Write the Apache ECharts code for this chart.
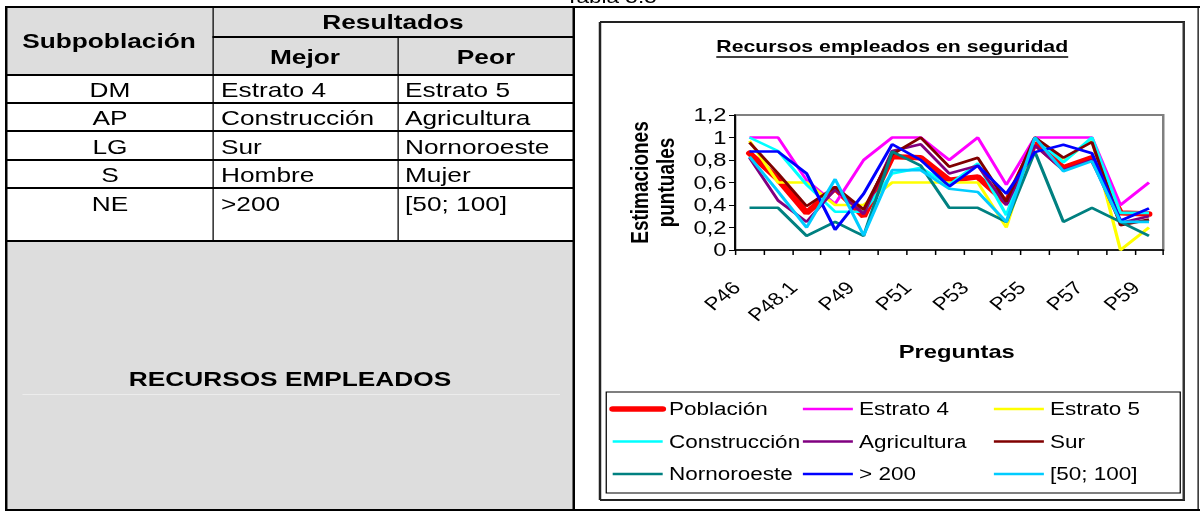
<!DOCTYPE html>
<html><head><meta charset="utf-8">
<script src="https://cdn.jsdelivr.net/npm/echarts@6/dist/echarts.min.js"></script>
<style>
html,body{margin:0;padding:0;background:#fff;overflow:hidden;width:1201px;height:513px;}
#page{position:absolute;left:0;top:0;height:513px;transform-origin:0 0;font-family:"Liberation Sans",Arial,sans-serif;color:#000;}
.a{position:absolute;}
.t{position:absolute;white-space:nowrap;line-height:1;}
</style></head><body>
<div id="page"></div>
<script>
// ---------- data ----------
const categories = ['P46','P47','P48.1','P48.2','P49','P50','P51','P52','P53','P54','P55','P56','P57','P58','P59'];
const seriesNames = ['Población','Estrato 4','Estrato 5','Construcción','Agricultura','Sur','Nornoroeste','> 200','[50; 100]'];
const poblacion    = [0.86, 0.63, 0.33, 0.55, 0.30, 0.83, 0.82, 0.62, 0.65, 0.42, 0.95, 0.73, 0.82, 0.33, 0.32];
const estrato4     = [1.00, 1.00, 0.62, 0.41, 0.80, 1.00, 1.00, 0.80, 1.00, 0.58, 1.00, 1.00, 1.00, 0.40, 0.60];
const estrato5     = [0.97, 0.60, 0.60, 0.40, 0.40, 0.60, 0.60, 0.60, 0.60, 0.20, 1.00, 0.79, 0.98, 0.00, 0.20];
const construccion = [1.00, 0.88, 0.58, 0.34, 0.34, 0.68, 0.73, 0.58, 0.77, 0.31, 1.00, 0.78, 1.00, 0.33, 0.33];
const agricultura  = [0.82, 0.44, 0.25, 0.54, 0.32, 0.88, 0.94, 0.68, 0.75, 0.40, 0.93, 0.71, 0.80, 0.24, 0.30];
const sur          = [0.955,0.68, 0.39, 0.56, 0.36, 0.85, 1.00, 0.74, 0.82, 0.43, 1.00, 0.82, 0.96, 0.22, 0.27];
const nornoroeste  = [0.375,0.375,0.125,0.25, 0.125,0.875,0.75, 0.375,0.375,0.25, 0.875,0.25, 0.375,0.25, 0.125];
const mas200       = [0.875,0.875,0.68, 0.18, 0.50, 0.94, 0.80, 0.565,0.75, 0.50, 0.87, 0.935,0.86, 0.26, 0.37];
const r50a100      = [0.83, 0.52, 0.20, 0.63, 0.13, 0.71, 0.71, 0.545,0.515,0.25, 1.00, 0.70, 0.79, 0.25, 0.25];
const seriesColors = ['#FF0000','#FF00FF','#FFFF00','#00FFFF','#800080','#800000','#008080','#0000FF','#00CCFF'];
const seriesValues = [poblacion, estrato4, estrato5, construccion, agricultura, sur, nornoroeste, mas200, r50a100];
const tableHeader = ['Subpoblación','Resultados','Mejor','Peor'];
const tableSub  = ['DM','AP','LG','S','NE'];
const tableBest = ['Estrato 4','Construcción','Sur','Hombre','>200'];
const tableWorst= ['Estrato 5','Agricultura','Nornoroeste','Mujer','[50; 100]'];
const chartTitle = 'Recursos empleados en seguridad';
const yName = 'Estimaciones\npuntuales';
const xName = 'Preguntas';

// ---------- layout helpers (final px -> logical px, page is stretched horizontally) ----------
const K = 1.25;
const FONT = '"Liberation Sans", Arial, sans-serif';
const page = document.getElementById('page');
page.style.width = (1201 / K) + 'px';
page.style.transform = 'scaleX(' + K + ')';

function box(X1, Y1, X2, Y2, bg) {
  const d = document.createElement('div');
  d.className = 'a';
  d.style.left = (X1 / K) + 'px'; d.style.top = Y1 + 'px';
  d.style.width = ((X2 - X1) / K) + 'px'; d.style.height = (Y2 - Y1) + 'px';
  d.style.background = bg; page.appendChild(d); return d;
}
function hline(X1, X2, Y, t, c) { return box(X1, Y - t / 2, X2, Y + t / 2, c || '#000'); }
function vline(X, Y1, Y2, t, c) { return box(X - t / 2, Y1, X + t / 2, Y2, c || '#000'); }
function txt(s, X, Yc, size, bold, align) {
  const d = document.createElement('div');
  d.className = 't'; d.textContent = s;
  d.style.fontSize = size + 'px'; d.style.fontWeight = bold ? 'bold' : 'normal';
  d.style.top = (Yc - size * 0.49) + 'px';
  if (align === 'center') { d.style.left = (X / K - 300) + 'px'; d.style.width = '600px'; d.style.textAlign = 'center'; }
  else { d.style.left = (X / K) + 'px'; }
  page.appendChild(d); return d;
}

// gray fills
box(7, 8, 574, 75, '#dddddd');
box(7, 241, 574, 510, '#dddddd');
hline(22, 560, 394, 1, '#ececec');

// caption (cut at top, as in the reference)
txt('Tabla 5.5', 611, -3, 18, false, 'center');

// table lines
hline(5, 1200, 7, 2);
hline(5, 1200, 510, 2);
vline(6, 6, 511, 2);
vline(1198, 6, 511, 2);
vline(574, 6, 511, 2);
vline(213, 7, 241, 1.5);
vline(398, 37, 241, 1.5);
hline(213, 574, 37, 1.5);
[75, 103, 131, 160, 188].forEach(y => hline(6, 574, y, 1.5));
hline(6, 574, 241, 2);

// table text
txt(tableHeader[0], 109, 40, 21, true, 'center');
txt(tableHeader[1], 393, 21, 21, true, 'center');
txt(tableHeader[2], 305, 56, 21, true, 'center');
txt(tableHeader[3], 486, 56, 21, true, 'center');
const rowY = [89, 117, 146, 174, 203];
tableSub.forEach((s, i) => {
  txt(s, 110, rowY[i], 21, false, 'center');
  txt(tableBest[i], 221, rowY[i], 21, false, 'left');
  txt(tableWorst[i], 405, rowY[i], 21, false, 'left');
});
txt('RECURSOS EMPLEADOS', 290, 378, 21, true, 'center');

// chart box
hline(600, 1185, 22, 1.5, '#222');
hline(600, 1185, 500, 1.5, '#222');
vline(600, 22, 500, 1.5, '#222');
vline(1184, 22, 500, 2, '#333');

// ---------- chart ----------
const CX = 601, CY = 23;
const cdiv = document.createElement('div');
cdiv.className = 'a';
cdiv.style.left = (CX / K) + 'px'; cdiv.style.top = CY + 'px';
cdiv.style.width = ((1183 - CX) / K) + 'px'; cdiv.style.height = (499 - CY) + 'px';
page.appendChild(cdiv);

const chart = echarts.init(cdiv, null, { renderer: 'svg' });

const TITLE_SIZE = 17;
const cv = document.createElement('canvas').getContext('2d');
cv.font = 'bold ' + TITLE_SIZE + 'px "Liberation Sans"';
const titleW = cv.measureText(chartTitle).width;
const titleCx = (892 - CX) / K;

const legendCols = [
  [seriesNames[0], seriesNames[3], seriesNames[6]],
  [seriesNames[1], seriesNames[4], seriesNames[7]],
  [seriesNames[2], seriesNames[5], seriesNames[8]]
];
const legendX = [609, 801, 992];

const option = {
  animation: false,
  textStyle: { fontFamily: FONT },
  title: {
    text: chartTitle, left: titleCx, top: 15, textAlign: 'center', padding: 0,
    textStyle: { fontSize: TITLE_SIZE, fontWeight: 'bold', color: '#000', fontFamily: FONT }
  },
  graphic: [
    { type: 'line', shape: { x1: titleCx - titleW / 2, y1: 34, x2: titleCx + titleW / 2, y2: 34 },
      style: { stroke: '#000', lineWidth: 1.5 } },
    { type: 'rect', shape: { x: (606 - CX) / K, y: 392 - CY, width: (1180 - 606) / K, height: 493 - 392 },
      style: { fill: 'none', stroke: '#000', lineWidth: 1 } }
  ],
  grid: {
    left: (735 - CX) / K, top: 115 - CY, width: (1163 - 735) / K, height: 250 - 115,
    show: true, borderColor: '#808080', borderWidth: 2, backgroundColor: 'transparent'
  },
  legend: legendCols.map((col, i) => ({
    data: col, orient: 'vertical', left: (legendX[i] - CX) / K, top: 376,
    itemWidth: 50 / K, itemHeight: 2, itemGap: 12.5, padding: 0,
    selectedMode: false,
    itemStyle: { opacity: 0 },
    lineStyle: { width: 'inherit' },
    textStyle: { fontSize: 18, color: '#000', lineHeight: 20, fontFamily: FONT }
  })),
  xAxis: {
    type: 'category', data: categories, boundaryGap: true,
    name: xName, nameLocation: 'middle', nameGap: 92,
    nameTextStyle: { fontSize: 19, fontWeight: 'bold', color: '#000', fontFamily: FONT, padding: [0, 0, 0, 12] },
    axisLine: { lineStyle: { color: '#000', width: 1.5 } },
    axisTick: { show: true, length: 5, interval: 0, lineStyle: { color: '#000', width: 1.2 } },
    axisLabel: { interval: 1, rotate: 45, fontSize: 18, color: '#000', margin: 24, padding: [0, 15, 0, 0], fontFamily: FONT },
    splitLine: { show: false }
  },
  yAxis: {
    type: 'value', min: 0, max: 1.2, interval: 0.2,
    name: yName, nameLocation: 'middle', nameGap: 44, nameRotate: 90,
    nameTextStyle: { fontSize: 19, fontWeight: 'bold', color: '#000', lineHeight: 21, fontFamily: FONT, align: 'center' },
    axisLine: { show: true, lineStyle: { color: '#000', width: 1.5 } },
    axisTick: { show: true, length: 5, inside: false, lineStyle: { color: '#000', width: 1.2 } },
    axisLabel: { fontSize: 19, color: '#000', margin: 7, fontFamily: FONT,
      formatter: v => String(Math.round(v * 10) / 10).replace('.', ',') },
    splitLine: { show: false }
  },
  series: seriesNames.map((n, i) => ({
    name: n, type: 'line', data: seriesValues[i],
    symbol: 'none', showSymbol: false, smooth: false,
    lineStyle: { color: seriesColors[i], width: i === 0 ? 5.5 : 2.6, cap: i === 0 ? 'round' : 'butt' },
    itemStyle: { color: seriesColors[i] },
    z: 2 + i
  }))
};
chart.setOption(option);
</script>
</body></html>
